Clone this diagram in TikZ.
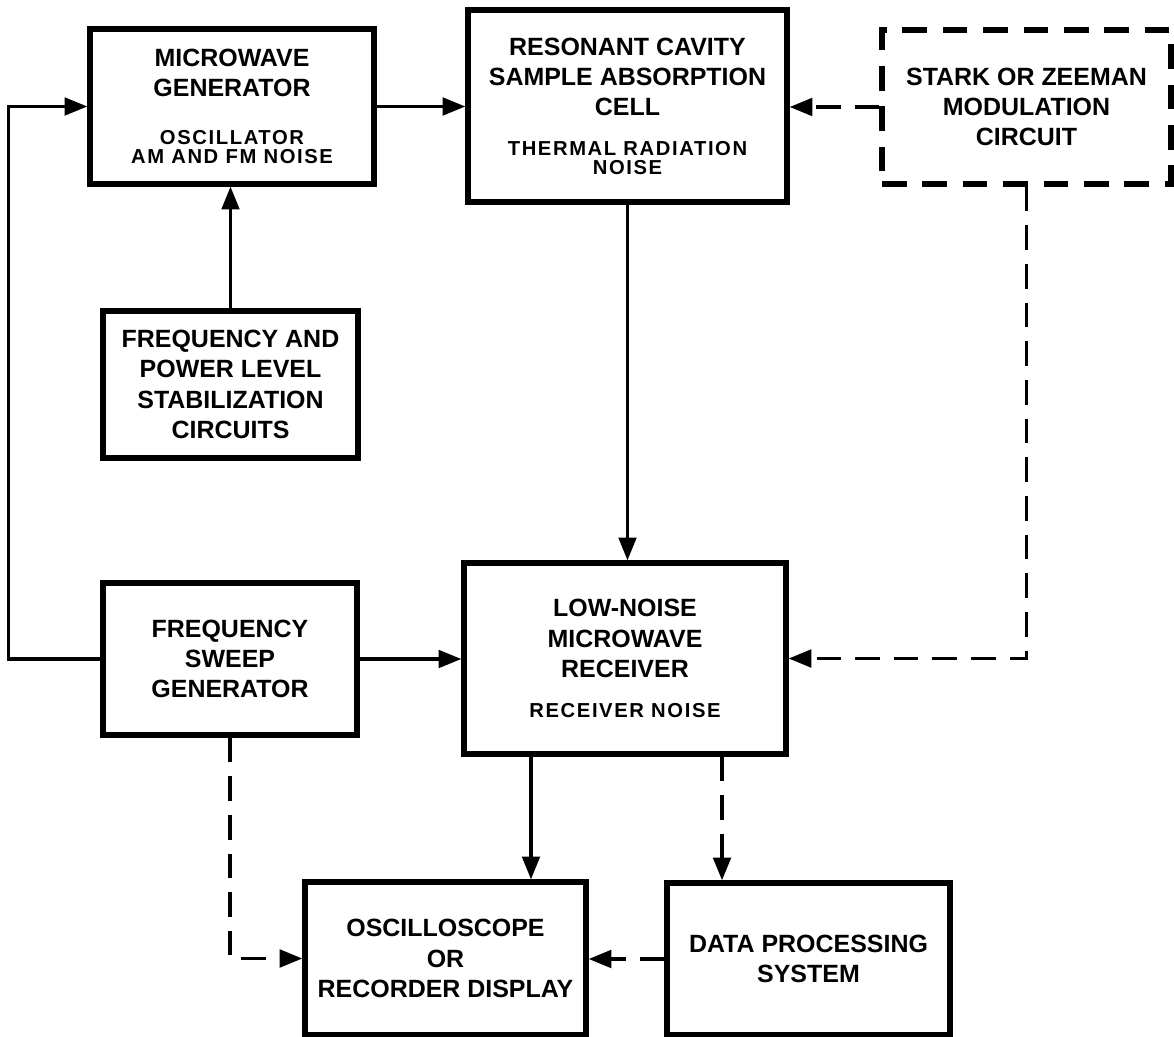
\documentclass[tikz,border=0pt]{standalone}
\usepackage{fontspec}
\setmainfont{Liberation Sans}
\newfontfamily\noisefont{Liberation Sans}[LetterSpace=8]
\usepackage{tikz}
\usetikzlibrary{arrows.meta}
\newcommand{\nz}{\noisefont\bfseries\fontsize{11.5}{13}\selectfont}

\begin{document}
\begin{tikzpicture}[x=0.02cm,y=-0.02cm]
    \tikzset{blok/.style={draw=black,line width=3pt,align=center,inner sep=0pt,font=\fontsize{14.2}{17.3}\selectfont\bfseries},
      wire/.style={line width=1.9pt},
      dsh/.style={line width=2.1pt,dash pattern=on 14pt off 8pt},
      >={Triangle[length=13pt,width=10pt]}}

    \useasboundingbox (0,0) rectangle (1174,1037);

    %boxes
    \node[blok,minimum width=5.68cm,minimum height=3.10cm] (mw_gen) at (232,106.5)
      {MICROWAVE\\GENERATOR\\[10pt]{\nz OSCILLATOR}\\[-6.5pt]{\nz AM AND FM NOISE}};
    \node[blok,minimum width=6.38cm,minimum height=3.84cm] (cav_cell) at (627.5,106)
      {RESONANT CAVITY\\SAMPLE ABSORPTION\\CELL\\[5pt]{\nz THERMAL RADIATION}\\[-6.5pt]{\nz NOISE}};
    \node[blok,dash pattern=on 14pt off 9pt,line width=3.2pt,minimum width=5.78cm,minimum height=3.08cm] (stark_mod) at (1026.5,107)
      {STARK OR ZEEMAN\\MODULATION\\CIRCUIT};
    \node[blok,minimum width=5.10cm,minimum height=2.94cm] (stab_circ) at (230.5,384.5)
      {FREQUENCY AND\\POWER LEVEL\\STABILIZATION\\CIRCUITS};
    \node[blok,minimum width=5.08cm,minimum height=3.04cm] (sweep_gen) at (230,659)
      {FREQUENCY\\SWEEP\\GENERATOR};
    \node[blok,minimum width=6.44cm,minimum height=3.82cm] (lownoise_rcv) at (625,658.5)
      {LOW-NOISE\\MICROWAVE\\RECEIVER\\[5.5pt]{\nz RECEIVER NOISE}};
    \node[blok,minimum width=5.62cm,minimum height=3.06cm] (scope_disp) at (445.5,958.5)
      {OSCILLOSCOPE\\OR\\RECORDER DISPLAY};
    \node[blok,minimum width=5.66cm,minimum height=3.04cm] (data_proc) at (808.5,959)
      {DATA PROCESSING\\SYSTEM};

    %solid connections
    \draw[wire,->] (sweep_gen.west) -- ++(-92,0) |- (mw_gen.west);
    \draw[wire,->] (mw_gen.east) -- (mw_gen.east -| cav_cell.west);
    \draw[wire,->] (stab_circ.north) -- (stab_circ.north |- mw_gen.south);
    \draw[wire,->] (cav_cell.south) -- (cav_cell.south |- lownoise_rcv.north);
    \draw[wire,->] (sweep_gen.east) -- (sweep_gen.east -| lownoise_rcv.west);
    \draw[wire,->] ([xshift=1.71cm]scope_disp.north |- lownoise_rcv.south) -- ([xshift=1.71cm]scope_disp.north);

    %modulation and display (dashed)
    \draw[dsh,->] (stark_mod.west) -- (stark_mod.west -| cav_cell.east);
    \draw[dsh,->] (stark_mod.south) |- (lownoise_rcv.east);
    \draw[dsh,->] ([xshift=-1.73cm]data_proc.north |- lownoise_rcv.south) -- ([xshift=-1.73cm]data_proc.north);
    \draw[dsh,->] (sweep_gen.south) |- (scope_disp.west);
    \draw[dsh,->] (data_proc.west) -- (data_proc.west -| scope_disp.east);
\end{tikzpicture}
\end{document}
